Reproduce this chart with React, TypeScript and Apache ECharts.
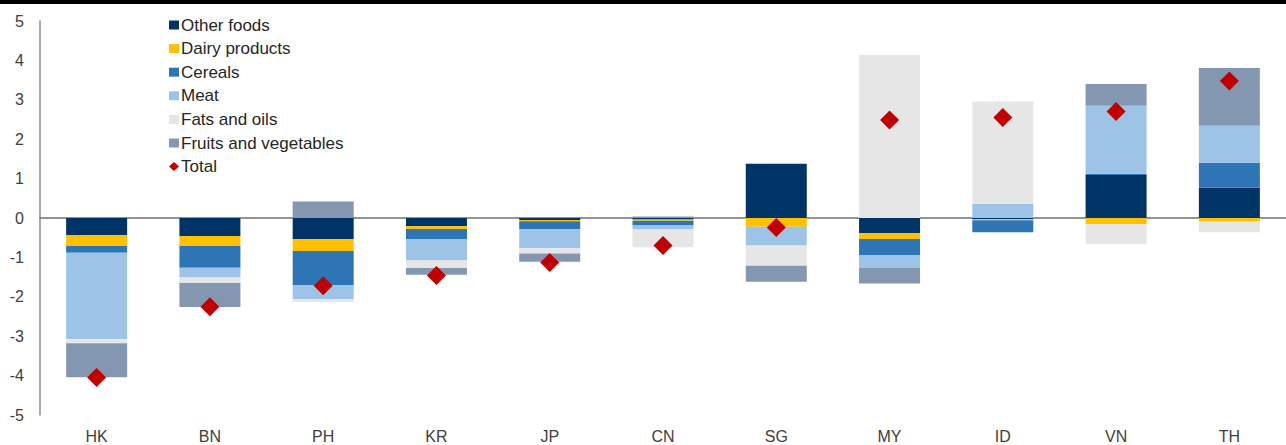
import React, { useEffect, useRef } from "react";
import * as echarts from "echarts";

// Contributions to food inflation by component, percentage points
const categories = ["HK", "BN", "PH", "KR", "JP", "CN", "SG", "MY", "ID", "VN", "TH"];

const otherFoods = [-0.43, -0.46, -0.54, -0.21, -0.05, -0.04, 1.38, -0.39, -0.03, 1.09, 0.77];
const dairyProducts = [-0.28, -0.25, -0.3, -0.07, -0.03, -0.03, -0.22, -0.14, -0.03, -0.15, -0.09];
const cereals = [-0.17, -0.55, -0.86, -0.25, -0.2, -0.12, 0, -0.41, -0.3, 0.03, 0.63];
const meat = [-2.2, -0.25, -0.36, -0.55, -0.49, -0.1, -0.48, -0.32, 0.36, 1.73, 0.94];
const fatsAndOils = [-0.1, -0.14, -0.07, -0.19, -0.13, -0.45, -0.51, 4.14, 2.6, -0.51, -0.27];
const fruitsAndVegetables = [-0.86, -0.61, 0.42, -0.17, -0.21, 0.04, -0.41, -0.4, 0, 0.55, 1.47];
const total = [-4.05, -2.25, -1.72, -1.46, -1.13, -0.7, -0.24, 2.49, 2.55, 2.7, 3.48];

const yTicks = { min: -5, max: 5, interval: 1 };

const FONT = "'Liberation Sans', Arial, sans-serif";

const stackSeries = [
  { name: "Other foods", data: otherFoods, color: "#003366" },
  { name: "Dairy products", data: dairyProducts, color: "#FFC000" },
  { name: "Cereals", data: cereals, color: "#2E75B6" },
  { name: "Meat", data: meat, color: "#9DC3E6" },
  { name: "Fats and oils", data: fatsAndOils, color: "#E6E6E6" },
  { name: "Fruits and vegetables", data: fruitsAndVegetables, color: "#8497B0" },
];

export default function App() {
  const ref = useRef<HTMLDivElement>(null);

  useEffect(() => {
    if (!ref.current) return;
    const chart = echarts.init(ref.current, null, { renderer: "svg" });

    chart.setOption({
      animation: false,
      backgroundColor: "#ffffff",
      graphic: [
        {
          type: "rect",
          left: 0,
          top: 0,
          shape: { width: 1286, height: 4 },
          style: { fill: "#000000" },
        },
      ],
      legend: {
        orient: "vertical",
        left: 164,
        top: 11,
        itemWidth: 10,
        itemHeight: 9,
        itemGap: 5.6,
        textStyle: { fontFamily: FONT, fontSize: 17, color: "#262626", lineHeight: 18, padding: [0, 0, 0, -3] },
        data: [
          ...stackSeries.map((s) => ({ name: s.name, icon: "rect" })),
          { name: "Total", icon: "diamond" },
        ],
      },
      grid: { left: 40, right: 0, top: 21, bottom: 30, containLabel: false },
      xAxis: [
        {
          type: "category",
          data: categories,
          position: "bottom",
          axisLine: { show: false, onZero: false },
          axisTick: { show: false },
          axisLabel: { fontFamily: FONT, fontSize: 16, color: "#404040", margin: 13 },
        },
        {
          type: "category",
          data: categories,
          position: "bottom",
          axisLine: { show: true, onZero: true, lineStyle: { color: "#707070", width: 1.5 } },
          axisTick: { show: false },
          axisLabel: { show: false },
        },
      ],
      yAxis: {
        type: "value",
        min: yTicks.min,
        max: yTicks.max,
        interval: yTicks.interval,
        axisLine: { show: true, lineStyle: { color: "#8c8c8c", width: 1.5 } },
        axisTick: { show: false },
        splitLine: { show: false },
        axisLabel: { fontFamily: FONT, fontSize: 16, color: "#404040", margin: 16 },
      },
      series: [
        ...stackSeries.map((s) => ({
          name: s.name,
          type: "bar",
          stack: "food",
          xAxisIndex: 0,
          barWidth: 61,
          itemStyle: { color: s.color },
          data: s.data,
        })),
        {
          name: "Total",
          type: "scatter",
          xAxisIndex: 0,
          symbol: "diamond",
          symbolSize: 19,
          itemStyle: { color: "#C00000", opacity: 1 },
          data: total,
          z: 5,
        },
      ],
    });

    return () => chart.dispose();
  }, []);

  return <div ref={ref} style={{ position: "absolute", left: 0, top: 0, width: 1286, height: 445 }} />;
}
